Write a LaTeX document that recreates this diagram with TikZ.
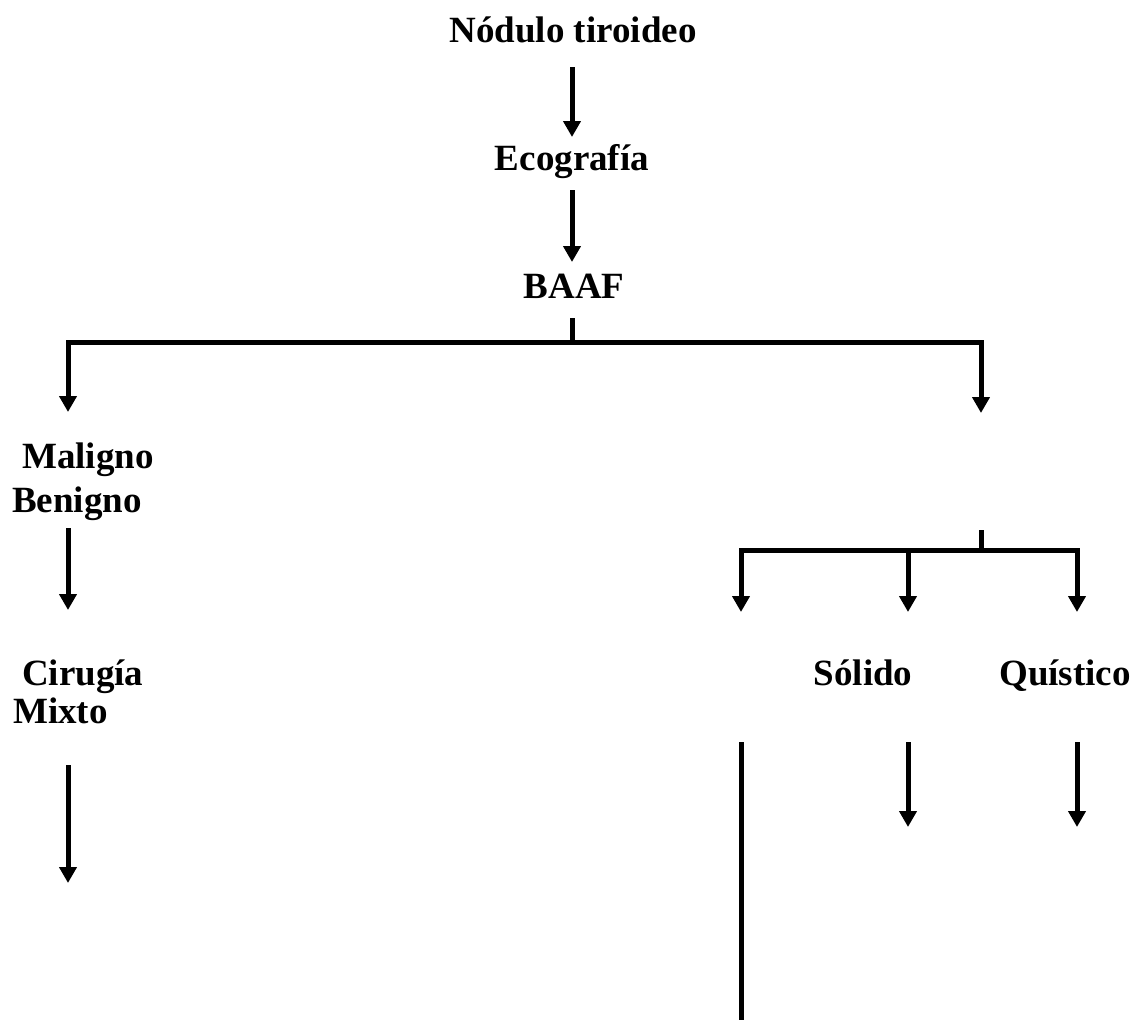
\documentclass[tikz,border=0pt]{standalone}
\usepackage{fontspec}
\setmainfont{Liberation Serif}
\usetikzlibrary{arrows.meta}
\usetikzlibrary{calc}

\tikzset{
  texto/.style={font=\bfseries\fontsize{37}{43}\selectfont, inner sep=0pt},
  flecha/.style={line width=5pt, line join=miter, -{Triangle[width=17pt,length=16pt]}},
  linea/.style={line width=5pt}
}

\begin{document}
\begin{tikzpicture}[x=1pt, y=-1pt]
      \useasboundingbox (0,0) rectangle (1143,1023);

      \node[texto, anchor=base] (nodulo) at (573,42) {Nódulo tiroideo};
      \node[texto, anchor=base] (eco) at (572,170) {Ecografía};
      \node[texto, anchor=base] (baaf) at (574,298) {BAAF};
      \node[texto, anchor=base west] (maligno) at (22,468) {Maligno};
      \node[texto, anchor=base west] (benigno) at (12,512) {Benigno};
      \node[texto, anchor=base west] (cirugia) at (22,685) {Cirugía};
      \node[texto, anchor=base west] (mixto) at (13,723) {Mixto};
      \node[texto, anchor=base] (solido) at (863,685) {Sólido};
      \node[texto, anchor=base] (quistico) at (1065,685) {Quístico};

      \coordinate (bus) at (572,342);
      \coordinate (izq) at (68,412);
      \coordinate (der) at (981,413);
      \coordinate (bus2) at (981,550);

      \draw[flecha] ($(nodulo.base)+(-1,25)$) -- ($(eco.base)+(0,-33)$);
      \draw[flecha] ($(eco.base)+(0,20)$) -- ($(baaf.base)+(-2,-36)$);
      \draw[linea] ($(baaf.base)+(-2,20)$) -- (bus);
      \draw[flecha] (bus) -| (izq);
      \draw[flecha] (bus) -| (der);

      \draw[flecha] ($(benigno.base west)+(56,16)$) -- ($(cirugia.base west)+(46,-75)$);
      \draw[flecha] ($(mixto.base west)+(55,42)$) -- ($(mixto.base west)+(55,160)$);

      \draw[linea] ($(der)+(0,117)$) -- (bus2);
      \draw[flecha] (bus2) -| ($(solido.base)+(-122,-73)$);
      \draw[flecha] ($(solido.base)+(45,-135)$) -- ($(solido.base)+(45,-73)$);
      \draw[flecha] (bus2) -| ($(quistico.base)+(12,-73)$);

      \draw[flecha] ($(solido.base)+(45,57)$) -- ($(solido.base)+(45,142)$);
      \draw[flecha] ($(quistico.base)+(12,57)$) -- ($(quistico.base)+(12,142)$);
      \draw[linea] ($(solido.base)+(-122,57)$) -- ($(solido.base)+(-122,335)$);
\end{tikzpicture}
\end{document}
